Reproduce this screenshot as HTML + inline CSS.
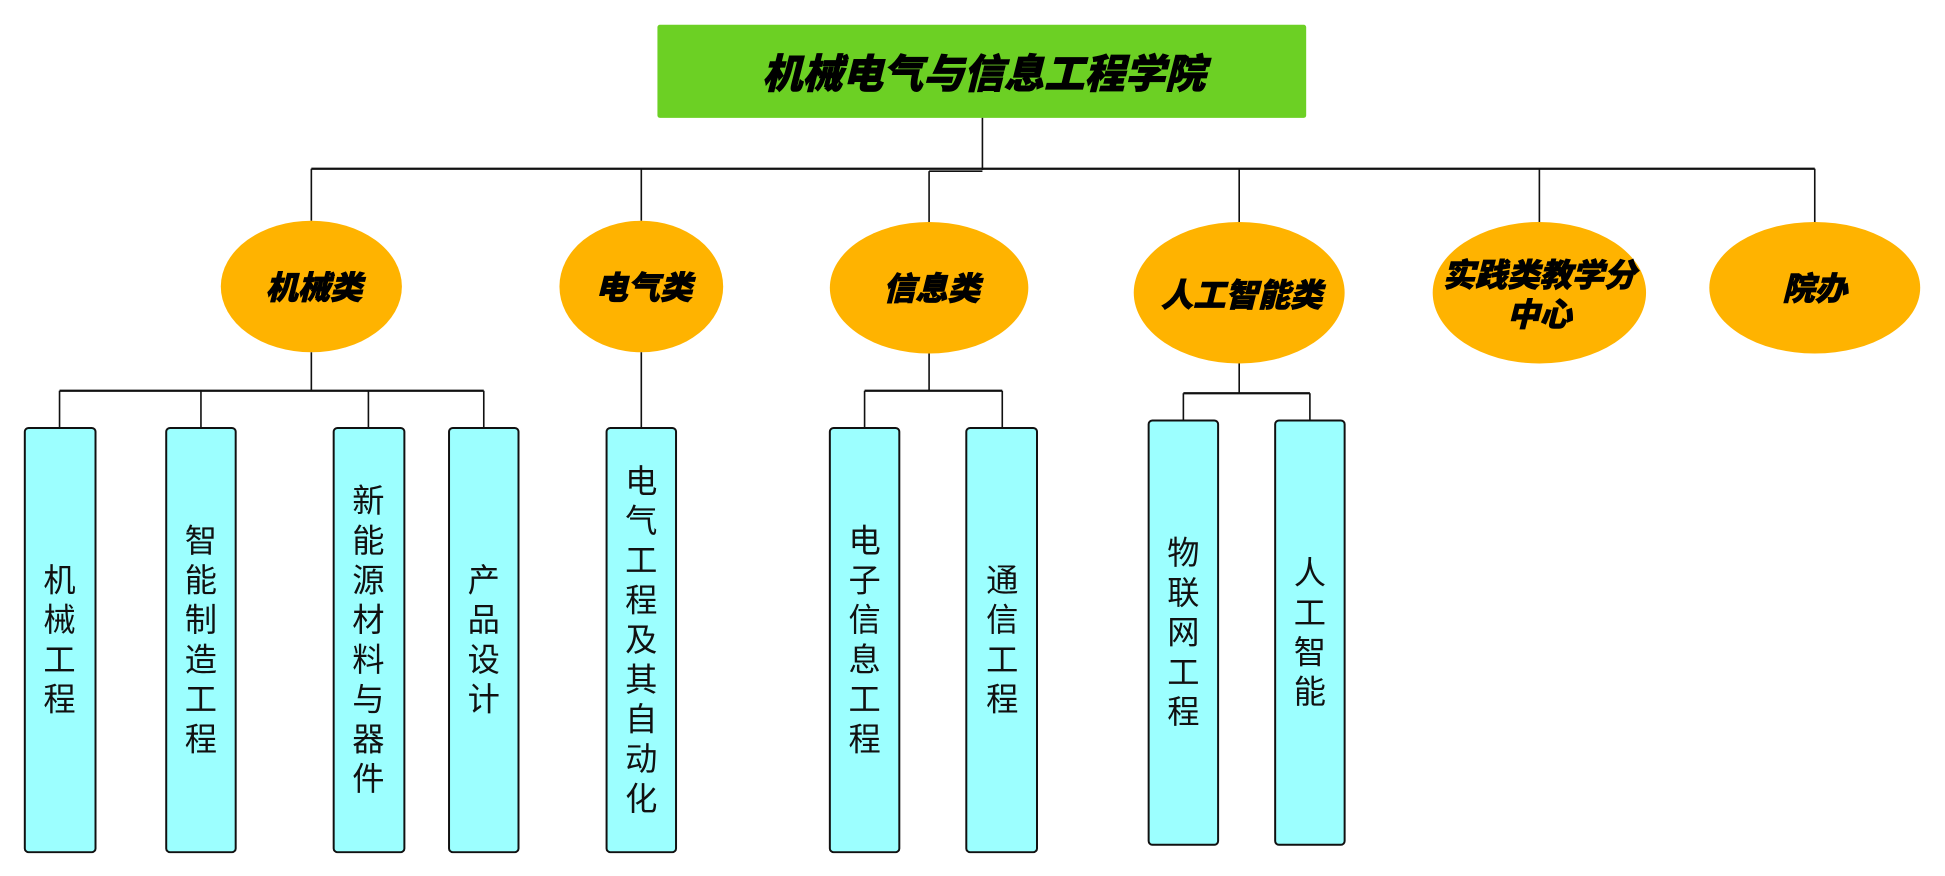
<!DOCTYPE html>
<html><head><meta charset="utf-8"><style>
html,body{margin:0;padding:0;background:#fff;width:1945px;height:876px;overflow:hidden}
svg{display:block}
.t{font-family:"Liberation Sans","Noto Sans CJK SC",sans-serif;font-weight:900;font-style:italic;fill:#000;stroke:#000;stroke-width:0.6}
.v{font-family:"Liberation Sans","Noto Sans CJK SC",sans-serif;font-size:26px;fill:#111}
.b{fill:#9cffff;stroke:#111;stroke-width:1.6}
.e{fill:#ffb300}
line,polyline{stroke:#111;stroke-width:1.3;fill:none}
</style></head><body>
<svg width="1945" height="876" viewBox="0 0 1568 706.2" preserveAspectRatio="none" xmlns="http://www.w3.org/2000/svg">
<rect x="530" y="20" width="523" height="75" rx="2" fill="#6cd024"/>
<text class="t" x="793" y="71" font-size="32.5" text-anchor="middle">机械电气与信息工程学院</text>
<line x1="792" y1="95" x2="792" y2="137"/>
<line x1="251" y1="136" x2="1463" y2="136" style="stroke-width:1.8"/>
<line x1="749" y1="138" x2="792" y2="138"/>
<line x1="251" y1="136" x2="251" y2="178"/>
<line x1="517" y1="136" x2="517" y2="178"/>
<line x1="749" y1="138" x2="749" y2="180"/>
<line x1="999" y1="136" x2="999" y2="180"/>
<line x1="1241" y1="136" x2="1241" y2="180"/>
<line x1="1463" y1="136" x2="1463" y2="180"/>
<ellipse class="e" cx="251" cy="231" rx="73" ry="53"/>
<ellipse class="e" cx="517" cy="231" rx="66" ry="53"/>
<ellipse class="e" cx="749" cy="232" rx="80" ry="53"/>
<ellipse class="e" cx="999" cy="236" rx="85" ry="57"/>
<ellipse class="e" cx="1241" cy="236" rx="86" ry="57"/>
<ellipse class="e" cx="1463" cy="232" rx="85" ry="53"/>
<text class="t" x="253" y="241" font-size="26" text-anchor="middle">机械类</text>
<text class="t" x="519" y="241" font-size="26" text-anchor="middle">电气类</text>
<text class="t" x="751" y="242" font-size="26" text-anchor="middle">信息类</text>
<text class="t" x="1001" y="247" font-size="26" text-anchor="middle">人工智能类</text>
<text class="t" x="1241" y="231" font-size="26" text-anchor="middle">实践类教学分</text>
<text class="t" x="1241" y="263" font-size="26" text-anchor="middle">中心</text>
<text class="t" x="1463" y="242" font-size="26" text-anchor="middle">院办</text>
<line x1="251" y1="284" x2="251" y2="315"/>
<line x1="48" y1="315" x2="390" y2="315" style="stroke-width:1.8"/>
<line x1="48" y1="315" x2="48" y2="345"/><line x1="162" y1="315" x2="162" y2="345"/>
<line x1="297" y1="315" x2="297" y2="345"/><line x1="390" y1="315" x2="390" y2="345"/>
<line x1="517" y1="284" x2="517" y2="345"/>
<line x1="749" y1="285" x2="749" y2="315"/>
<line x1="697" y1="315" x2="808" y2="315" style="stroke-width:1.8"/>
<line x1="697" y1="315" x2="697" y2="345"/><line x1="808" y1="315" x2="808" y2="345"/>
<line x1="999" y1="293" x2="999" y2="317"/>
<line x1="954" y1="317" x2="1056" y2="317" style="stroke-width:1.8"/>
<line x1="954" y1="317" x2="954" y2="339"/><line x1="1056" y1="317" x2="1056" y2="339"/>
<rect class="b" x="20" y="345" width="57" height="342" rx="3"/>
<rect class="b" x="134" y="345" width="56" height="342" rx="3"/>
<rect class="b" x="269" y="345" width="57" height="342" rx="3"/>
<rect class="b" x="362" y="345" width="56" height="342" rx="3"/>
<rect class="b" x="489" y="345" width="56" height="342" rx="3"/>
<rect class="b" x="669" y="345" width="56" height="342" rx="3"/>
<rect class="b" x="779" y="345" width="57" height="342" rx="3"/>
<rect class="b" x="926" y="339" width="56" height="342" rx="3"/>
<rect class="b" x="1028" y="339" width="56" height="342" rx="3"/>
<g class="v" text-anchor="middle" dominant-baseline="central">
<text x="48"><tspan x="48" y="468">机</tspan><tspan x="48" y="500">械</tspan><tspan x="48" y="532">工</tspan><tspan x="48" y="564">程</tspan></text>
<text x="162"><tspan x="162" y="436">智</tspan><tspan x="162" y="468">能</tspan><tspan x="162" y="500">制</tspan><tspan x="162" y="532">造</tspan><tspan x="162" y="564">工</tspan><tspan x="162" y="596">程</tspan></text>
<text x="297"><tspan x="297" y="404">新</tspan><tspan x="297" y="436">能</tspan><tspan x="297" y="468">源</tspan><tspan x="297" y="500">材</tspan><tspan x="297" y="532">料</tspan><tspan x="297" y="564">与</tspan><tspan x="297" y="596">器</tspan><tspan x="297" y="628">件</tspan></text>
<text x="390"><tspan x="390" y="468">产</tspan><tspan x="390" y="500">品</tspan><tspan x="390" y="532">设</tspan><tspan x="390" y="564">计</tspan></text>
<text x="517"><tspan x="517" y="388">电</tspan><tspan x="517" y="420">气</tspan><tspan x="517" y="452">工</tspan><tspan x="517" y="484">程</tspan><tspan x="517" y="516">及</tspan><tspan x="517" y="548">其</tspan><tspan x="517" y="580">自</tspan><tspan x="517" y="612">动</tspan><tspan x="517" y="644">化</tspan></text>
<text x="697"><tspan x="697" y="436">电</tspan><tspan x="697" y="468">子</tspan><tspan x="697" y="500">信</tspan><tspan x="697" y="532">息</tspan><tspan x="697" y="564">工</tspan><tspan x="697" y="596">程</tspan></text>
<text x="808"><tspan x="808" y="468">通</tspan><tspan x="808" y="500">信</tspan><tspan x="808" y="532">工</tspan><tspan x="808" y="564">程</tspan></text>
<text x="954"><tspan x="954" y="446">物</tspan><tspan x="954" y="478">联</tspan><tspan x="954" y="510">网</tspan><tspan x="954" y="542">工</tspan><tspan x="954" y="574">程</tspan></text>
<text x="1056"><tspan x="1056" y="462">人</tspan><tspan x="1056" y="494">工</tspan><tspan x="1056" y="526">智</tspan><tspan x="1056" y="558">能</tspan></text>
</g>
</svg>
</body></html>
